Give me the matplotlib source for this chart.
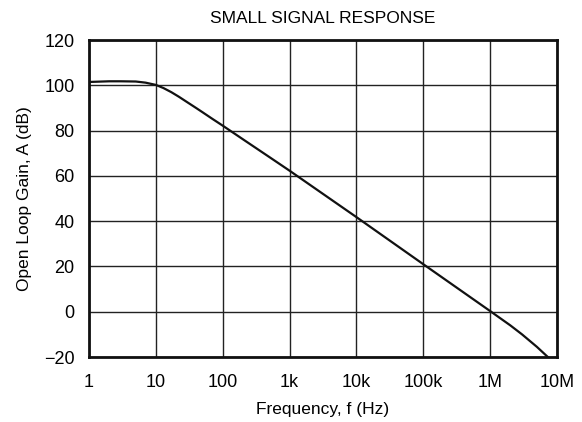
import numpy as np
import matplotlib.pyplot as plt

plt.rcParams['font.family'] = ['Liberation Sans', 'DejaVu Sans']

# open loop gain
freq = [1, 2, 3, 5, 7, 10, 13, 17, 22, 30, 40, 50, 70, 100, 200, 500, 1e3,
        1e4, 1e5, 1e6, 2e6, 3e6, 5e6, 7.3e6]
gain = [101.5, 101.8, 101.8, 101.7, 101.2, 100.2, 98.8, 97.0, 95.0, 92.4,
        90.0, 88.1, 85.2, 82.2, 76.2, 68.3, 62.3, 41.8, 21.0, 0.3, -6.0,
        -10.0, -15.5, -20.0]

xticks = [1, 10, 100, 1e3, 1e4, 1e5, 1e6, 1e7]
xticklabels = ['1', '10', '100', '1k', '10k', '100k', '1M', '10M']
yticks = [-20, 0, 20, 40, 60, 80, 100, 120]
yticklabels = ['\u221220', '0', '20', '40', '60', '80', '100', '120']

fig = plt.figure(figsize=(5.82, 4.22), dpi=100)
ax = fig.add_axes([0.153, 0.154, 0.804, 0.751])

ax.plot(freq, gain, color='#111111', lw=1.6, zorder=3)

ax.set_xscale('log')
ax.set_xlim(1, 1e7)
ax.set_ylim(-20, 120)
ax.set_xticks(xticks)
ax.set_xticklabels(xticklabels)
ax.set_xticks([], minor=True)
ax.set_yticks(yticks)
ax.set_yticklabels(yticklabels)
ax.tick_params(length=0, labelsize=13)
ax.tick_params(axis='x', pad=12.5)
ax.tick_params(axis='y', pad=10.5)

ax.grid(True, color='#222222', lw=1.0)
for s in ax.spines.values():
    s.set_linewidth(2.0)
    s.set_color('#111111')

ax.set_title('SMALL SIGNAL RESPONSE', fontsize=12.5, pad=12)
ax.set_xlabel('Frequency, f (Hz)', fontsize=12.5, labelpad=7.5)
ax.set_ylabel('Open Loop Gain, A (dB)', fontsize=12.5, labelpad=8.5)

plt.savefig('out.png', dpi=100)
